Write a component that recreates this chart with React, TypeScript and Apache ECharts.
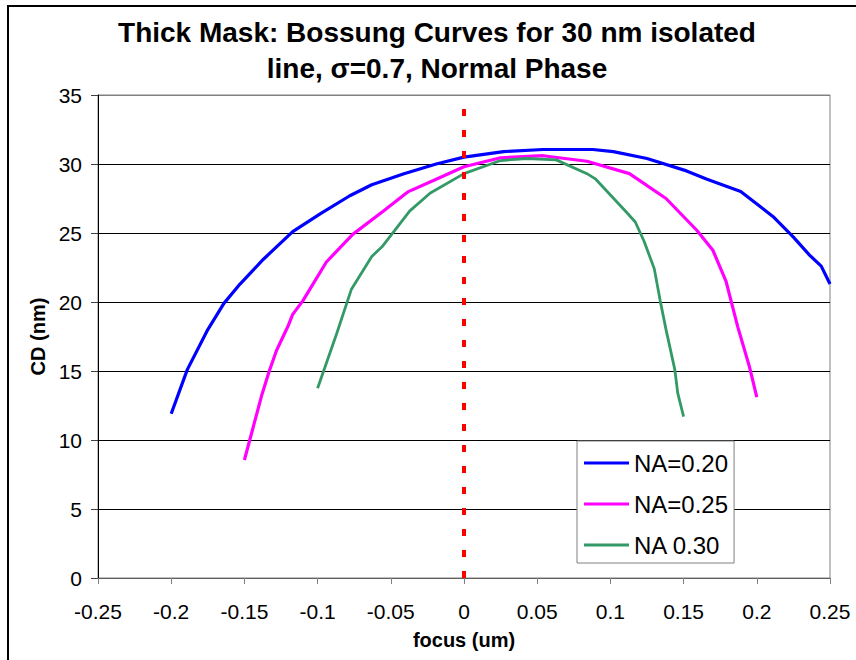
import React, { useEffect, useRef } from "react";
import * as echarts from "echarts";

// focus (um), CD (nm)
const na020: number[][] = [
  [-0.2, 11.9], [-0.189, 15.1], [-0.175, 18.0], [-0.164, 19.9], [-0.153, 21.3],
  [-0.137, 23.1], [-0.117, 25.1], [-0.098, 26.4], [-0.078, 27.7], [-0.063, 28.5],
  [-0.041, 29.3], [-0.019, 30.0], [0, 30.5], [0.027, 30.9], [0.054, 31.05],
  [0.088, 31.05], [0.102, 30.9], [0.125, 30.4], [0.152, 29.5], [0.166, 28.9],
  [0.189, 28.0], [0.211, 26.2], [0.225, 24.7], [0.236, 23.4], [0.244, 22.6],
  [0.25, 21.3],
];
const na025: number[][] = [
  [-0.15, 8.55], [-0.138, 13.3], [-0.133, 15.0], [-0.128, 16.5], [-0.12, 18.3],
  [-0.117, 19.1], [-0.11, 20.1], [-0.094, 22.9], [-0.076, 24.9], [-0.055, 26.6],
  [-0.038, 28.0], [-0.019, 28.9], [0, 29.8], [0.025, 30.45], [0.054, 30.6],
  [0.084, 30.2], [0.113, 29.3], [0.138, 27.5], [0.159, 25.2], [0.17, 23.75],
  [0.179, 21.5], [0.187, 18.2], [0.195, 15.3], [0.2, 13.1],
];
const na030: number[][] = [
  [-0.1, 13.75], [-0.087, 17.7], [-0.077, 20.9], [-0.063, 23.3], [-0.056, 24.0],
  [-0.037, 26.6], [-0.023, 27.9], [0, 29.3], [0.025, 30.25], [0.043, 30.4],
  [0.063, 30.3], [0.084, 29.3], [0.09, 28.9], [0.111, 26.5], [0.117, 25.8],
  [0.123, 24.4], [0.13, 22.4], [0.134, 20.1], [0.138, 18.0], [0.144, 15.1],
  [0.146, 13.4], [0.15, 11.7],
];
const focusLine: number[][] = [[0, 0], [0, 35]];
const seriesNames = ["NA=0.20", "NA=0.25", "NA 0.30"];
const titleText = "Thick Mask: Bossung Curves for 30 nm isolated\nline, σ=0.7, Normal Phase";

const FONT = '"Liberation Sans", Arial, sans-serif';

export default function App() {
  const ref = useRef<HTMLDivElement>(null);
  useEffect(() => {
    document.body.style.margin = "0";
    const chart = echarts.init(ref.current!, null, { renderer: "svg" });
    chart.setOption({
      animation: false,
      backgroundColor: "#fff",
      grid: {
        left: 98, top: 95, right: 26, bottom: 82,
        show: true, borderColor: "#808080", borderWidth: 1,
      },
      graphic: [
        {
          type: "rect",
          shape: { x: 8, y: 6, width: 900, height: 700 },
          style: { fill: "none", stroke: "#000", lineWidth: 2 },
          silent: true,
        },
        {
          type: "text",
          x: 437, y: 14,
          style: {
            text: titleText,
            textAlign: "center",
            textVerticalAlign: "top",
            fontSize: 28, fontWeight: "bold", fontFamily: FONT,
            lineHeight: 36, fill: "#000",
          },
        },
      ],
      legend: {
        orient: "vertical",
        left: 577, top: 441,
        data: seriesNames.map((n) => ({ name: n, icon: "rect" })),
        itemWidth: 45, itemHeight: 3, itemGap: 17,
        padding: [10, 6, 6, 7],
        borderColor: "#808080", borderWidth: 1,
        backgroundColor: "#fff",
        textStyle: { fontSize: 24, fontFamily: FONT, color: "#000", lineHeight: 24 },
      },
      xAxis: {
        type: "value", min: -0.25, max: 0.25, interval: 0.05,
        name: "focus (um)", nameLocation: "middle", nameGap: 52,
        nameTextStyle: { fontSize: 20, fontWeight: "bold", fontFamily: FONT, color: "#000" },
        axisLine: { onZero: false, lineStyle: { color: "#606060", width: 1 } },
        axisTick: { show: true, length: 6, lineStyle: { color: "#808080" } },
        axisLabel: { fontSize: 21, fontFamily: FONT, color: "#000", margin: 23 },
        splitLine: { show: false },
      },
      yAxis: {
        type: "value", min: 0, max: 35, interval: 5,
        name: "CD (nm)", nameLocation: "middle", nameGap: 34, nameRotate: 90,
        nameTextStyle: { fontSize: 20, fontWeight: "bold", fontFamily: FONT, color: "#000" },
        axisLine: { show: true, onZero: false, lineStyle: { color: "#000", width: 1 } },
        axisTick: { show: true, length: 7, lineStyle: { color: "#404040" } },
        axisLabel: { fontSize: 21, fontFamily: FONT, color: "#000", margin: 16 },
        splitLine: {
          show: true,
          lineStyle: { color: ["#000", "#000", "#000", "#000", "#000", "#000", "#000", "#808080"], width: 1 },
        },
      },
      series: [
        { name: seriesNames[0], type: "line", data: na020, showSymbol: false, symbol: "none",
          lineStyle: { color: "#0000FF", width: 3.2 }, itemStyle: { color: "#0000FF" } },
        { name: seriesNames[1], type: "line", data: na025, showSymbol: false, symbol: "none",
          lineStyle: { color: "#FF00FF", width: 3.2 }, itemStyle: { color: "#FF00FF" } },
        { name: seriesNames[2], type: "line", data: na030, showSymbol: false, symbol: "none",
          lineStyle: { color: "#339966", width: 2.8 }, itemStyle: { color: "#339966" } },
        { name: "focus0", type: "line", data: focusLine, showSymbol: false, symbol: "none",
          lineStyle: { color: "#FF0000", width: 4, type: [7, 14] }, silent: true },
      ],
    });
    return () => chart.dispose();
  }, []);
  return <div ref={ref} style={{ width: 856, height: 660 }} />;
}
